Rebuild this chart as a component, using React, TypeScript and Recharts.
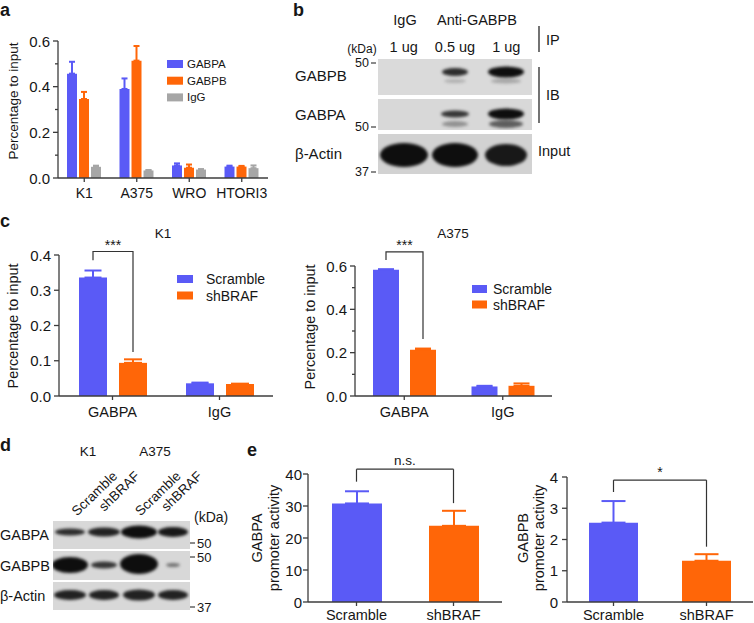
import React from 'react';
import { BarChart, Bar, XAxis, YAxis, ErrorBar, ReferenceLine, Rectangle } from 'recharts';

const FONT = '"Liberation Sans", Arial, Helvetica, sans-serif';
const BLUE = '#5a5af6';
const ORANGE = '#ff6608';
const GRAY = '#a6a6a6';
const AXIS = '#3c3c3c';
const TXT = '#161616';
const BRACKET = '#333333';

// ---------- Panel a ----------
const aCells = ['K1', 'A375', 'WRO', 'HTORI3'];
const aGABPA = [0.457, 0.39, 0.055, 0.05];
const aGABPAErr = [0.052, 0.046, 0.009, 0.004];
const aGABPB = [0.346, 0.514, 0.045, 0.05];
const aGABPBErr = [0.031, 0.064, 0.014, 0.003];
const aIgG = [0.049, 0.033, 0.037, 0.043];
const aIgGErr = [0.005, 0.002, 0.002, 0.012];
const aTicks = [0, 0.1, 0.2, 0.3, 0.4, 0.5, 0.6];
const aLegend = ['GABPA', 'GABPB', 'IgG'];

// ---------- Panel b (blot) ----------
const bLanes = ['1 ug', '0.5 ug', '1 ug'];
// [lane, bandWidth, bandHeight, centreY within row, darkness]
const bGABPBBands = [[1, 26, 8, 13, 0.85], [1, 22, 4, 22, 0.2], [2, 36, 11, 13, 1], [2, 30, 5, 22, 0.25]];
const bGABPABands = [[1, 28, 7, 15, 0.8], [1, 26, 6, 25, 0.35], [2, 36, 11, 15, 1], [2, 34, 8, 25, 0.6]];
const bActinBands = [[0, 48, 24, 21, 1], [1, 46, 24, 21, 1], [2, 42, 22, 21, 0.95]];

// ---------- Panel c ----------
const cTargets = ['GABPA', 'IgG'];
const cLegend = ['Scramble', 'shBRAF'];
const k1Scramble = [0.336, 0.036];
const k1ScrambleErr = [0.02, 0.002];
const k1Sh = [0.094, 0.034];
const k1ShErr = [0.01, 0.001];
const k1Ticks = [0, 0.1, 0.2, 0.3, 0.4];
const k1Bracket = [{ top: 0.41, left: 0.385, right: 0.125, mark: '***' }, null];
const a375Scramble = [0.583, 0.044];
const a375ScrambleErr = [0.002, 0.003];
const a375Sh = [0.213, 0.047];
const a375ShErr = [0.006, 0.011];
const a375Ticks = [0, 0.1, 0.2, 0.3, 0.4, 0.5, 0.6];
const a375Bracket = [{ top: 0.665, left: 0.628, right: 0.263, mark: '***' }, null];

// ---------- Panel d (blot) ----------
const dLanes = ['Scramble', 'shBRAF', 'Scramble', 'shBRAF'];
const dLabelEndShift = [48, 36, 43, 30];
const dGABPABands = [[0, 30, 7, 11, 0.85], [1, 32, 9, 11, 0.9], [2, 36, 13, 11, 1], [3, 30, 10, 11, 0.95]];
const dGABPBBands = [[0, 36, 16, 14, 1], [1, 26, 7, 14, 0.8], [2, 38, 20, 13, 1], [3, 14, 4, 14, 0.5]];
const dActinBands = [[0, 32, 10, 13, 0.9], [1, 30, 10, 13, 0.9], [2, 32, 11, 13, 0.9], [3, 30, 10, 13, 0.9]];

// ---------- Panel e ----------
const eGroups = ['Scramble', 'shBRAF'];
const eGabpa = [30.8, 23.8];
const eGabpaErr = [3.8, 4.7];
const eGabpaTicks = [0, 10, 20, 30, 40];
const eGabpaBracket = { top: 41.5, left: 37.6, right: 30.9, mark: 'n.s.' };
const eGabpb = [2.54, 1.32];
const eGabpbErr = [0.69, 0.21];
const eGabpbTicks = [0, 1, 2, 3, 4];
const eGabpbBracket = { top: 3.9, left: 3.52, right: 1.77, mark: '*' };

// ---------- data tables ----------
const aData = aCells.map((c, i) => ({
  cell: c,
  GABPA: aGABPA[i], GABPAe: [0, aGABPAErr[i]],
  GABPB: aGABPB[i], GABPBe: [0, aGABPBErr[i]],
  IgG: aIgG[i], IgGe: [0, aIgGErr[i]],
}));
const cData = (s: number[], se: number[], h: number[], he: number[]) =>
  cTargets.map((t, i) => ({ target: t, Scramble: s[i], ScrambleE: [0, se[i]], shBRAF: h[i], shBRAFE: [0, he[i]] }));
const k1Data = cData(k1Scramble, k1ScrambleErr, k1Sh, k1ShErr);
const a375Data = cData(a375Scramble, a375ScrambleErr, a375Sh, a375ShErr);
const eData = (v: number[], e: number[]) =>
  eGroups.map((g, i) => ({
    grp: g,
    Scramble: i === 0 ? v[0] : 0, ScrambleE: i === 0 ? [0, e[0]] : null,
    shBRAF: i === 1 ? v[1] : 0, shBRAFE: i === 1 ? [0, e[1]] : null,
  }));
const eAData = eData(eGabpa, eGabpaErr);
const eBData = eData(eGabpb, eGabpbErr);

const YW = 40;
const TOPM = 30;
const XH = 30;
const RM = 4;

const fmtEven = (v: number) => (Math.round(v * 10) % 2 === 0 ? v.toFixed(1) : null);
const fmtOne = (v: number) => v.toFixed(1);
const fmtInt = (v: number) => String(v);

function YTick(props: any) {
  const { y, payload, fmt, fs, gap } = props;
  const label = fmt(payload.value);
  const major = label !== null;
  return (
    <g>
      <line x1={YW - (major ? 5 : 3)} x2={YW} y1={y} y2={y} stroke={AXIS} strokeWidth={1.3} />
      {major && (
        <text x={YW - gap} y={y} dominantBaseline="central" textAnchor="end" fontSize={fs} fontFamily={FONT} fill={TXT}>
          {label}
        </text>
      )}
    </g>
  );
}

type Br = { top: number; left: number; right: number; mark: string } | null;

function bracketShape(brackets: Br[], key: string, gap: number) {
  return (props: any) => {
    const { x, y, width, height, fill, index, payload } = props;
    const rect = <Rectangle x={x} y={y} width={width} height={height} fill={fill} />;
    const b = brackets[index];
    const v = payload ? payload[key] : 0;
    if (!b || !v || !height) return rect;
    const base = y + height;
    const ppu = height / v;
    const yOf = (val: number) => base - val * ppu;
    const rx = x + width / 2;
    const lx = rx - width - gap;
    return (
      <g>
        {rect}
        <path d={`M${lx},${yOf(b.left)}V${yOf(b.top)}H${rx}V${yOf(b.right)}`} fill="none" stroke={BRACKET} strokeWidth={1.2} />
        <text x={(lx + rx) / 2} y={yOf(b.top) - 1.5} textAnchor="middle" fontSize={14} fontFamily={FONT} fill={TXT}>
          {b.mark}
        </text>
      </g>
    );
  };
}

type S = { key: string; err: string; color: string; cap: number; stack?: string; shape?: any };

function ChartPanel(p: {
  x0: number; yTop: number; plotW: number; plotH: number; data: any[]; cat: string;
  domain: [number, number]; ticks: number[]; fmt: (v: number) => string | null;
  barSize: number; barGap: number; fs: number; xfs: number; tickMargin: number; gap: number;
  bars: S[]; children?: React.ReactNode;
}) {
  const W = YW + p.plotW + RM;
  const H = TOPM + p.plotH + XH;
  return (
    <div style={{ position: 'absolute', left: p.x0 - YW, top: p.yTop - TOPM, width: W, height: H }}>
      <BarChart width={W} height={H} data={p.data} margin={{ top: TOPM, right: RM, bottom: 0, left: 0 }} barSize={p.barSize} barGap={p.barGap}>
        <XAxis
          dataKey={p.cat}
          height={XH}
          interval={0}
          axisLine={{ stroke: AXIS, strokeWidth: 1.3 }}
          tickLine={{ stroke: AXIS, strokeWidth: 1.3 }}
          tickSize={4}
          tickMargin={p.tickMargin}
          tick={{ fontSize: p.xfs, fill: TXT, fontFamily: FONT }}
        />
        <YAxis
          width={YW}
          type="number"
          domain={p.domain}
          ticks={p.ticks}
          interval={0}
          axisLine={{ stroke: AXIS, strokeWidth: 1.3 }}
          tickLine={false}
          tick={(tp: any) => <YTick {...tp} fmt={p.fmt} fs={p.fs} gap={p.gap} />}
        />
        {p.bars.map((b) => (
          <Bar key={b.key} dataKey={b.key} fill={b.color} stackId={b.stack} isAnimationActive={false} shape={b.shape}>
            <ErrorBar dataKey={b.err} width={b.cap} stroke={b.color} strokeWidth={2} direction="y" />
          </Bar>
        ))}
        {p.children}
      </BarChart>
    </div>
  );
}

function Blot({ left, top, width, height, lanes, bands, bg }: any) {
  return (
    <div style={{ position: 'absolute', left, top, width, height, background: bg, overflow: 'hidden' }}>
      {bands.map((b: number[], i: number) => (
        <div
          key={i}
          style={{
            position: 'absolute',
            left: `${((b[0] + 0.5) / lanes) * 100}%`,
            top: b[3],
            width: b[1],
            height: b[2],
            transform: 'translate(-50%, -50%)',
            borderRadius: '50%',
            background: `rgba(14,14,14,${b[4]})`,
            filter: 'blur(1.8px)',
          }}
        />
      ))}
    </div>
  );
}

function T({ x, y, children, size = 14.5, anchor = 'start', weight = 'normal', rotate = 0, baseline = 'central' }: any) {
  return (
    <text
      x={x}
      y={y}
      fontSize={size}
      fontFamily={FONT}
      fontWeight={weight}
      fill={TXT}
      textAnchor={anchor}
      dominantBaseline={baseline}
      transform={rotate ? `rotate(${rotate} ${x} ${y})` : undefined}
    >
      {children}
    </text>
  );
}

function KDa({ x, y, label }: any) {
  return (
    <g>
      <line x1={x} x2={x + 5} y1={y} y2={y} stroke={TXT} strokeWidth={1} />
      <T x={x - 2} y={y} size={12.5} anchor="end">{label}</T>
    </g>
  );
}

function KDaR({ x, y, label }: any) {
  return (
    <g>
      <line x1={x} x2={x + 5} y1={y} y2={y} stroke={TXT} strokeWidth={1} />
      <T x={x + 7} y={y} size={13}>{label}</T>
    </g>
  );
}

export default function App() {
  const aColors = [BLUE, ORANGE, GRAY];
  const cColors = [BLUE, ORANGE];
  return (
    <div style={{ position: 'absolute', left: 0, top: 0, width: 754, height: 623, overflow: 'hidden', background: '#fff', fontFamily: FONT }}>
      {/* Panel a */}
      <ChartPanel
        x0={58} yTop={41} plotW={210} plotH={137} data={aData} cat="cell" domain={[0, 0.6]} ticks={aTicks} fmt={fmtEven}
        barSize={10} barGap={2} fs={15} xfs={14} tickMargin={6} gap={8}
        bars={[
          { key: 'GABPA', err: 'GABPAe', color: BLUE, cap: 3 },
          { key: 'GABPB', err: 'GABPBe', color: ORANGE, cap: 3 },
          { key: 'IgG', err: 'IgGe', color: GRAY, cap: 3 },
        ]}
      />
      {/* Panel c K1 */}
      <ChartPanel
        x0={59} yTop={255} plotW={214} plotH={141} data={k1Data} cat="target" domain={[0, 0.4]} ticks={k1Ticks} fmt={fmtOne}
        barSize={28} barGap={12} fs={15} xfs={14.5} tickMargin={7} gap={8}
        bars={[
          { key: 'Scramble', err: 'ScrambleE', color: BLUE, cap: 8.5 },
          { key: 'shBRAF', err: 'shBRAFE', color: ORANGE, cap: 9, shape: bracketShape(k1Bracket, 'shBRAF', 12) },
        ]}
      />
      {/* Panel c A375 */}
      <ChartPanel
        x0={355} yTop={266} plotW={197} plotH={130} data={a375Data} cat="target" domain={[0, 0.6]} ticks={a375Ticks} fmt={fmtEven}
        barSize={26} barGap={11} fs={15} xfs={14.5} tickMargin={7} gap={8}
        bars={[
          { key: 'Scramble', err: 'ScrambleE', color: BLUE, cap: 8 },
          { key: 'shBRAF', err: 'shBRAFE', color: ORANGE, cap: 8, shape: bracketShape(a375Bracket, 'shBRAF', 11) },
        ]}
      />
      {/* Panel e GABPA */}
      <ChartPanel
        x0={308} yTop={474} plotW={194} plotH={128} data={eAData} cat="grp" domain={[0, 40]} ticks={eGabpaTicks} fmt={fmtInt}
        barSize={50} barGap={0} fs={15} xfs={14.5} tickMargin={4} gap={6}
        bars={[
          { key: 'Scramble', err: 'ScrambleE', color: BLUE, cap: 12, stack: 's' },
          { key: 'shBRAF', err: 'shBRAFE', color: ORANGE, cap: 12, stack: 's' },
        ]}
      >
        <ReferenceLine ifOverflow="visible" stroke={BRACKET} strokeWidth={1.2} segment={[{ x: 'Scramble', y: eGabpaBracket.left }, { x: 'Scramble', y: eGabpaBracket.top }]} />
        <ReferenceLine ifOverflow="visible" stroke={BRACKET} strokeWidth={1.2} segment={[{ x: 'Scramble', y: eGabpaBracket.top }, { x: 'shBRAF', y: eGabpaBracket.top }]}
          label={{ value: eGabpaBracket.mark, position: 'top', offset: 4, fontSize: 13.5, fill: TXT, fontFamily: FONT }} />
        <ReferenceLine ifOverflow="visible" stroke={BRACKET} strokeWidth={1.2} segment={[{ x: 'shBRAF', y: eGabpaBracket.top }, { x: 'shBRAF', y: eGabpaBracket.right }]} />
      </ChartPanel>
      {/* Panel e GABPB */}
      <ChartPanel
        x0={567} yTop={477} plotW={186} plotH={125} data={eBData} cat="grp" domain={[0, 4]} ticks={eGabpbTicks} fmt={fmtInt}
        barSize={49} barGap={0} fs={15} xfs={14.5} tickMargin={4} gap={9}
        bars={[
          { key: 'Scramble', err: 'ScrambleE', color: BLUE, cap: 12, stack: 's' },
          { key: 'shBRAF', err: 'shBRAFE', color: ORANGE, cap: 12, stack: 's' },
        ]}
      >
        <ReferenceLine ifOverflow="visible" stroke={BRACKET} strokeWidth={1.2} segment={[{ x: 'Scramble', y: eGabpbBracket.left }, { x: 'Scramble', y: eGabpbBracket.top }]} />
        <ReferenceLine ifOverflow="visible" stroke={BRACKET} strokeWidth={1.2} segment={[{ x: 'Scramble', y: eGabpbBracket.top }, { x: 'shBRAF', y: eGabpbBracket.top }]}
          label={{ value: eGabpbBracket.mark, position: 'top', offset: 3, fontSize: 14, fill: TXT, fontFamily: FONT }} />
        <ReferenceLine ifOverflow="visible" stroke={BRACKET} strokeWidth={1.2} segment={[{ x: 'shBRAF', y: eGabpbBracket.top }, { x: 'shBRAF', y: eGabpbBracket.right }]} />
      </ChartPanel>

      {/* Panel b blots */}
      <Blot left={378} top={59} width={154} height={36} lanes={bLanes.length} bands={bGABPBBands} bg="#dadada" />
      <Blot left={378} top={99} width={154} height={31} lanes={bLanes.length} bands={bGABPABands} bg="#d8d8d8" />
      <Blot left={378} top={134} width={154} height={40} lanes={bLanes.length} bands={bActinBands} bg="#d2d2d2" />

      {/* Panel d blots */}
      <Blot left={53} top={521} width={137} height={28} lanes={dLanes.length} bands={dGABPABands} bg="#d8d8d8" />
      <Blot left={53} top={551} width={137} height={29} lanes={dLanes.length} bands={dGABPBBands} bg="#d8d8d8" />
      <Blot left={53} top={582} width={137} height={28} lanes={dLanes.length} bands={dActinBands} bg="#d8d8d8" />

      <svg width={754} height={623} style={{ position: 'absolute', left: 0, top: 0, pointerEvents: 'none' }}>
        {/* panel letters */}
        <T x={0} y={9.5} size={18} weight="bold">a</T>
        <T x={293} y={10} size={18} weight="bold">b</T>
        <T x={0} y={221} size={18} weight="bold">c</T>
        <T x={0} y={445} size={18} weight="bold">d</T>
        <T x={247} y={449.5} size={18} weight="bold">e</T>

        {/* panel a */}
        <T x={13} y={101} size={13.5} anchor="middle" rotate={-90}>Percentage to input</T>
        {aLegend.map((l, i) => (
          <g key={l}>
            <rect x={167} y={60 + i * 16.7} width={16} height={8} fill={aColors[i]} />
            <T x={187} y={64 + i * 16.7} size={11.5}>{l}</T>
          </g>
        ))}

        {/* panel b */}
        <T x={405} y={20} anchor="middle">IgG</T>
        <T x={477} y={20} anchor="middle">Anti-GABPB</T>
        {bLanes.map((l, i) => (
          <T key={i} x={378 + ((i + 0.5) * 154) / bLanes.length} y={47} anchor="middle">{l}</T>
        ))}
        <T x={362} y={49} size={12} anchor="middle">(kDa)</T>
        <KDa x={371} y={63} label="50" />
        <KDa x={371} y={127} label="50" />
        <KDa x={371} y={172} label="37" />
        <T x={295} y={75} size={15}>GABPB</T>
        <T x={295} y={114} size={15}>GABPA</T>
        <T x={295} y={153} size={15}>β-Actin</T>
        <line x1={539} x2={539} y1={26} y2={52} stroke={TXT} strokeWidth={1.2} />
        <T x={546} y={40}>IP</T>
        <line x1={539} x2={539} y1={67} y2={123} stroke={TXT} strokeWidth={1.2} />
        <T x={546} y={95}>IB</T>
        <T x={538} y={151}>Input</T>

        {/* panel c */}
        <T x={163} y={233} size={13.5} anchor="middle">K1</T>
        <T x={453} y={233} size={13.5} anchor="middle">A375</T>
        <T x={13} y={326} size={14.4} anchor="middle" rotate={-90}>Percentage to input</T>
        <T x={310} y={327} size={14.4} anchor="middle" rotate={-90}>Percentage to input</T>
        {cLegend.map((l, i) => (
          <g key={'cl' + l}>
            <rect x={177} y={275 + i * 16.5} width={16} height={8} fill={cColors[i]} />
            <T x={206} y={279 + i * 16.5} size={14}>{l}</T>
          </g>
        ))}
        {cLegend.map((l, i) => (
          <g key={'cr' + l}>
            <rect x={472} y={285 + i * 15.5} width={15} height={8} fill={cColors[i]} />
            <T x={493} y={289 + i * 15.5} size={14}>{l}</T>
          </g>
        ))}

        {/* panel d */}
        <T x={88} y={451} size={13.5} anchor="middle">K1</T>
        <T x={155} y={451} size={13.5} anchor="middle">A375</T>
        {dLanes.map((l, i) => {
          const cx = 53 + ((i + 0.5) * 137) / dLanes.length;
          return (
            <T key={i} x={cx + dLabelEndShift[i]} y={477} size={13.5} rotate={-44} anchor="end" baseline="alphabetic">{l}</T>
          );
        })}
        <T x={0} y={535}>GABPA</T>
        <T x={0} y={566}>GABPB</T>
        <T x={0} y={596}>β-Actin</T>
        <T x={194} y={517} size={14}>(kDa)</T>
        <KDaR x={190} y={543} label="50" />
        <KDaR x={190} y={557} label="50" />
        <KDaR x={190} y={607} label="37" />

        {/* panel e */}
        <T x={257} y={538} anchor="middle" rotate={-90}>GABPA</T>
        <T x={274} y={538} anchor="middle" rotate={-90}>promoter activity</T>
        <T x={523} y={538} anchor="middle" rotate={-90}>GABPB</T>
        <T x={539} y={538} anchor="middle" rotate={-90}>promoter activity</T>
      </svg>
    </div>
  );
}
